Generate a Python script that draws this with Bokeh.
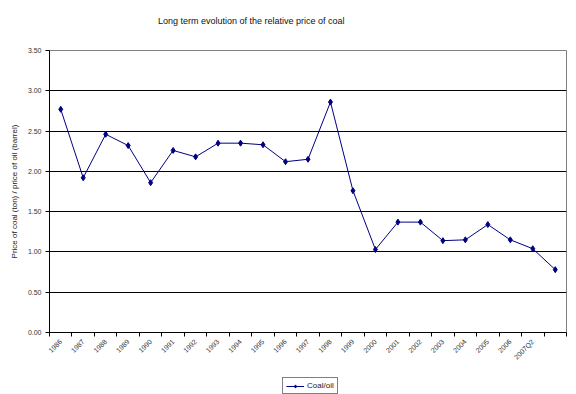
import numpy as np
from bokeh.plotting import figure
from bokeh.layouts import column
from bokeh.models import (ColumnDataSource, FixedTicker, Legend, LegendItem,
                          Range1d, Div, NumeralTickFormatter)
from bokeh.embed import file_html
from bokeh.resources import INLINE

categories = ["1986", "1987", "1988", "1989", "1990", "1991", "1992", "1993",
              "1994", "1995", "1996", "1997", "1998", "1999", "2000", "2001",
              "2002", "2003", "2004", "2005", "2006", "2007Q2", ""]
coal_oil = [2.77, 1.92, 2.46, 2.32, 1.86, 2.26, 2.18, 2.35, 2.35, 2.33, 2.12,
            2.15, 2.86, 1.76, 1.03, 1.37, 1.37, 1.14, 1.15, 1.34, 1.15, 1.04,
            0.78]
y_ticks = [0.0, 0.5, 1.0, 1.5, 2.0, 2.5, 3.0, 3.5]
series_name = "Coal/oil"
chart_title = "Long term evolution of the relative price of coal"

FONT = "Liberation Sans"
NAVY = "#000080"
n = len(categories)
xs = [i + 0.5 for i in range(n)]
src = ColumnDataSource(dict(x=xs, y=coal_oil))

title_div = Div(
    text=('<div style="font-family:\'Liberation Sans\';font-size:9px;'
          'line-height:11px;color:#111111;padding-left:158px;'
          'padding-top:16px;white-space:nowrap;">' + chart_title + '</div>'),
    width=576, height=44, margin=0)

p = figure(width=576, height=326, output_backend="svg", toolbar_location=None,
           x_range=Range1d(0, n), y_range=Range1d(0, 3.5),
           min_border_left=49, min_border_right=10, min_border_top=6,
           min_border_bottom=38)
p.background_fill_color = "white"
p.border_fill_color = "white"
p.outline_line_color = "#808080"
p.outline_line_width = 1

line = p.line("x", "y", source=src, line_color=NAVY, line_width=1)
pts = p.scatter("x", "y", source=src, marker="diamond", size=6,
                fill_color=NAVY, line_color=NAVY)

# x axis
p.xaxis.ticker = FixedTicker(ticks=xs, minor_ticks=list(range(n + 1)))
p.xaxis.major_label_overrides = {x: c for x, c in zip(xs, categories)}
p.xaxis.major_label_orientation = np.pi / 4
p.xaxis.major_tick_out = 0
p.xaxis.major_tick_in = 0
p.xaxis.minor_tick_out = 4
p.xaxis.minor_tick_in = 0
p.xaxis.minor_tick_line_color = "black"
p.xaxis.axis_line_color = "black"
p.xaxis.major_label_text_font = FONT
p.xaxis.major_label_text_font_size = "7px"
p.xaxis.major_label_text_color = "#333333"
p.xaxis.major_label_standoff = 4

# y axis
p.yaxis.ticker = FixedTicker(ticks=y_ticks)
p.yaxis.formatter = NumeralTickFormatter(format="0.00")
p.yaxis.major_tick_out = 4
p.yaxis.major_tick_in = 0
p.yaxis.minor_tick_line_color = None
p.yaxis.axis_line_color = "black"
p.yaxis.major_tick_line_color = "black"
p.yaxis.major_label_text_font = FONT
p.yaxis.major_label_text_font_size = "7px"
p.yaxis.major_label_text_color = "#333333"
p.yaxis.major_label_standoff = 4
p.yaxis.axis_label = "Price of coal (ton) / price of oil (barrel)"
p.yaxis.axis_label_text_font = FONT
p.yaxis.axis_label_text_font_size = "8px"
p.yaxis.axis_label_text_font_style = "normal"
p.yaxis.axis_label_text_color = "#222222"
p.yaxis.axis_label_standoff = 6

p.xgrid.grid_line_color = None
p.ygrid.ticker = FixedTicker(ticks=y_ticks[1:-1])
p.ygrid.grid_line_color = "black"
p.ygrid.grid_line_width = 1

# legend strip below the chart (series drawn off-range, only the legend shows)
lg = figure(width=576, height=24, output_backend="svg", toolbar_location=None,
            x_range=Range1d(0, n), y_range=Range1d(-2, -1),
            x_axis_location=None, y_axis_location=None,
            min_border_left=49, min_border_right=10, min_border_top=0,
            min_border_bottom=0)
lg.outline_line_color = None
lg.xgrid.grid_line_color = None
lg.ygrid.grid_line_color = None
lline = lg.line("x", "y", source=src, line_color=NAVY, line_width=1)
lpts = lg.scatter("x", "y", source=src, marker="diamond", size=6,
                  fill_color=NAVY, line_color=NAVY)
legend = Legend(items=[LegendItem(label=series_name, renderers=[lline, lpts])],
                orientation="horizontal", location=(233, 0),
                label_text_font=FONT, label_text_font_size="8px",
                label_text_color="#222222",
                border_line_color="black", border_line_width=1,
                glyph_width=18, glyph_height=8, label_height=8,
                padding=3, spacing=0, margin=0, label_standoff=3)
lg.add_layout(legend, "center")

layout = column(title_div, p, lg, spacing=0)
open("out.html", "w").write(file_html(layout, INLINE))
